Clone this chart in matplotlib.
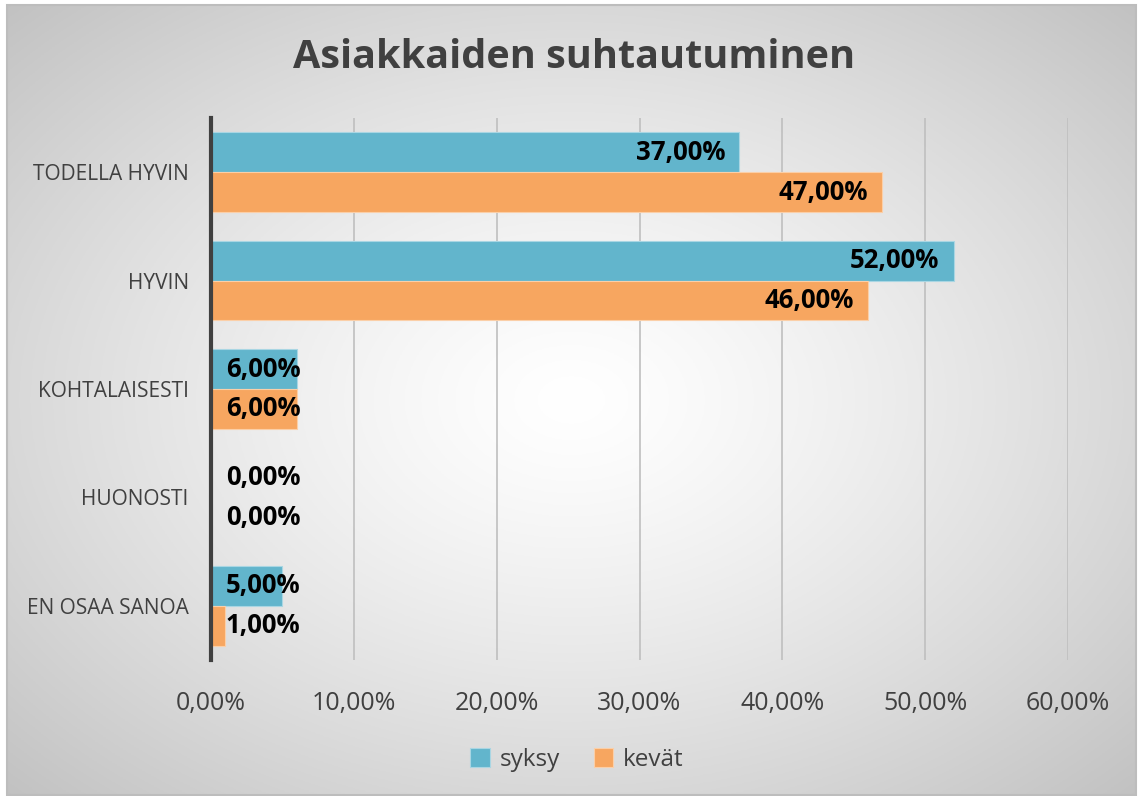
import numpy as np
import matplotlib.pyplot as plt
from matplotlib.patches import Rectangle

# ------------------------------------------------------------------
# Data
# ------------------------------------------------------------------
categories = ["TODELLA HYVIN", "HYVIN", "KOHTALAISESTI", "HUONOSTI", "EN OSAA SANOA"]
syksy = [37.0, 52.0, 6.0, 0.0, 5.0]
kevat = [47.0, 46.0, 6.0, 0.0, 1.0]
series_names = ["syksy", "kevät"]
x_ticks = [0, 10, 20, 30, 40, 50, 60]

c_blue = "#62B5CC"
c_orange = "#F7A660"
c_text = "#404040"
font = "Open Sans"

W, H = 1141, 796
fig = plt.figure(figsize=(W / 100, H / 100), dpi=100)

# ------------------------------------------------------------------
# Radial gradient background inside a thin frame
# ------------------------------------------------------------------
x0, y0, x1, y1 = 7, 5, 1136, 795
bg = fig.add_axes([x0 / W, 1 - y1 / H, (x1 - x0) / W, (y1 - y0) / H], zorder=-5)
gx, gy = np.meshgrid(np.linspace(-1, 1, 400), np.linspace(-1, 1, 300))
r = np.sqrt(gx ** 2 + gy ** 2) / np.sqrt(2)
shade = 1.0 - 0.24 * np.clip(r, 0, 1) ** 1.3
bg.imshow(np.dstack([shade] * 3), aspect="auto", extent=(0, 1, 0, 1))
bg.set_xlim(0, 1)
bg.set_ylim(0, 1)
bg.axis("off")
fig.patches.append(Rectangle((x0 / W, 1 - y1 / H), (x1 - x0) / W, (y1 - y0) / H,
                             transform=fig.transFigure, fill=False,
                             edgecolor="#BDBDBD", lw=1.5, zorder=-4))

# ------------------------------------------------------------------
# Plot area
# ------------------------------------------------------------------
px0, px1, py0, py1 = 211, 1068, 118, 660
ax = fig.add_axes([px0 / W, 1 - py1 / H, (px1 - px0) / W, (py1 - py0) / H])
ax.patch.set_alpha(0)

n = len(categories)
ypos = np.arange(n)[::-1]
bh = 0.367
ax.barh(ypos + bh / 2, syksy, height=bh, color=c_blue,
        edgecolor="#A9D6E3", lw=0.8, zorder=3, label=series_names[0])
ax.barh(ypos - bh / 2, kevat, height=bh, color=c_orange,
        edgecolor="#FBCFA8", lw=0.8, zorder=3, label=series_names[1])

# data labels: inside end, but never left of a minimum position
for yc, vals in ((ypos + bh / 2, syksy), (ypos - bh / 2, kevat)):
    for y, v in zip(yc, vals):
        xr = max(v - 1.0, 6.25)
        ax.text(xr, y, f"{v:.2f}%".replace(".", ","), ha="right", va="center",
                fontsize=18.5, fontweight="bold", color="black",
                family=font, zorder=5)

ax.set_xlim(0, 60)
ax.set_ylim(-0.5, n - 0.5)
ax.set_xticks(x_ticks)
ax.set_xticklabels([f"{t:.2f}%".replace(".", ",") for t in x_ticks],
                   fontsize=18, color=c_text, family=font)
ax.set_yticks(ypos)
ax.set_yticklabels(categories, fontsize=15, color=c_text, family=font)
ax.tick_params(axis="both", length=0)
ax.tick_params(axis="x", pad=22)
ax.tick_params(axis="y", pad=16)
ax.grid(axis="x", color="#BFBFBF", lw=1.2, zorder=0)
for s in ("top", "right", "bottom"):
    ax.spines[s].set_visible(False)
ax.spines["left"].set_color("#404040")
ax.spines["left"].set_linewidth(3)
ax.spines["left"].set_zorder(4)

# title
fig.text(574 / W, 1 - 58 / H, "Asiakkaiden suhtautuminen", ha="center", va="center",
         fontsize=28.5, fontweight="bold", color=c_text, family=font)

# legend
leg = fig.legend(loc="center", bbox_to_anchor=(577 / W, 1 - 760 / H), ncol=2,
                 frameon=False, handlelength=0.8, handleheight=0.8,
                 handletextpad=0.4, columnspacing=1.4,
                 prop={"family": font, "size": 17.5})
for t in leg.get_texts():
    t.set_color(c_text)

fig.savefig("out.png", dpi=100)
